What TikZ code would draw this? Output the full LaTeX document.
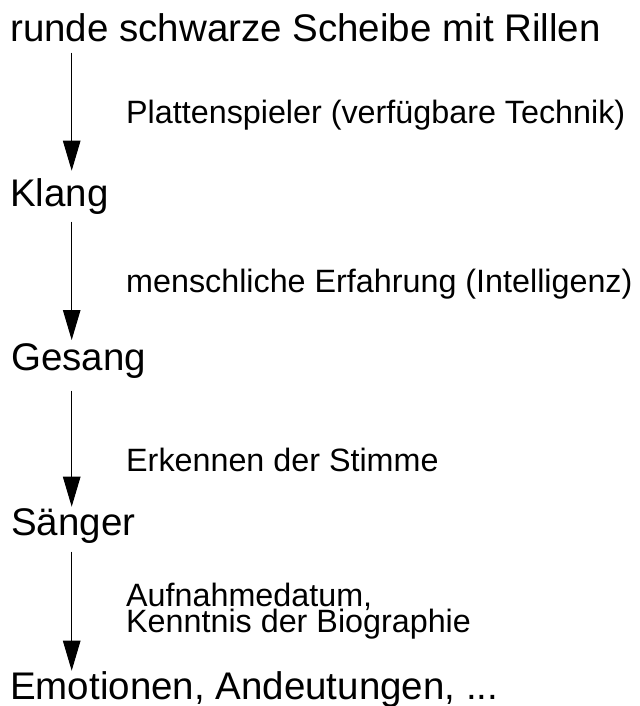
\documentclass[tikz,border=0pt]{standalone}
\usepackage{fontspec}
\setmainfont{Liberation Sans}
\usepackage{tikz}
\usetikzlibrary{arrows.meta}
\newcommand{\kleinschrift}{\fontsize{32.3bp}{26bp}\selectfont\setlength{\lineskiplimit}{-100bp}}

\begin{document}
\begin{tikzpicture}[
  gross/.style={anchor=base west,inner sep=0pt,font=\fontsize{38.5bp}{44bp}\selectfont},
  klein/.style={anchor=base west,inner sep=0pt,font=\kleinschrift,align=left},
  pfeil/.style={-{Triangle[length=30bp,width=17.5bp]},line width=1bp}]
\useasboundingbox (0bp,0bp) rectangle (640bp,-706bp);

\node (disc) at (10bp,-41.7bp)[gross] {runde schwarze Scheibe mit Rillen};
\node (klang) at (10bp,-206bp)[gross] {Klang};
\node (gesang) at (11bp,-370bp)[gross] {Gesang};
\node (saenger) at (11bp,-535bp)[gross] {Sänger};
\node (emotion) at (10bp,-699.3bp)[gross] {Emotionen, Andeutungen, ...};

\node (technik) at (126bp,-123.3bp)[klein] {Plattenspieler (verfügbare Technik)};
\node (erfahrung) at (126bp,-292.7bp)[klein] {menschliche Erfahrung (Intelligenz)};
\node (stimme) at (126bp,-471.7bp)[klein] {Erkennen der Stimme};
\node (biographie) at (126bp,-632.7bp)[klein] {Aufnahmedatum,\\Kenntnis der Biographie};

\draw [pfeil] ([shift={(61.7bp,-11bp)}]disc.base west) -- ([shift={(61.7bp,35.3bp)}]klang.base west);
\draw [pfeil] ([shift={(61.7bp,-15.7bp)}]klang.base west) -- ([shift={(60.7bp,30bp)}]gesang.base west);
\draw [pfeil] ([shift={(60.7bp,-20.7bp)}]gesang.base west) -- ([shift={(60.7bp,28.3bp)}]saenger.base west);
\draw [pfeil] ([shift={(60.7bp,-16.7bp)}]saenger.base west) -- ([shift={(61.7bp,28.6bp)}]emotion.base west);
\end{tikzpicture}
\end{document}
